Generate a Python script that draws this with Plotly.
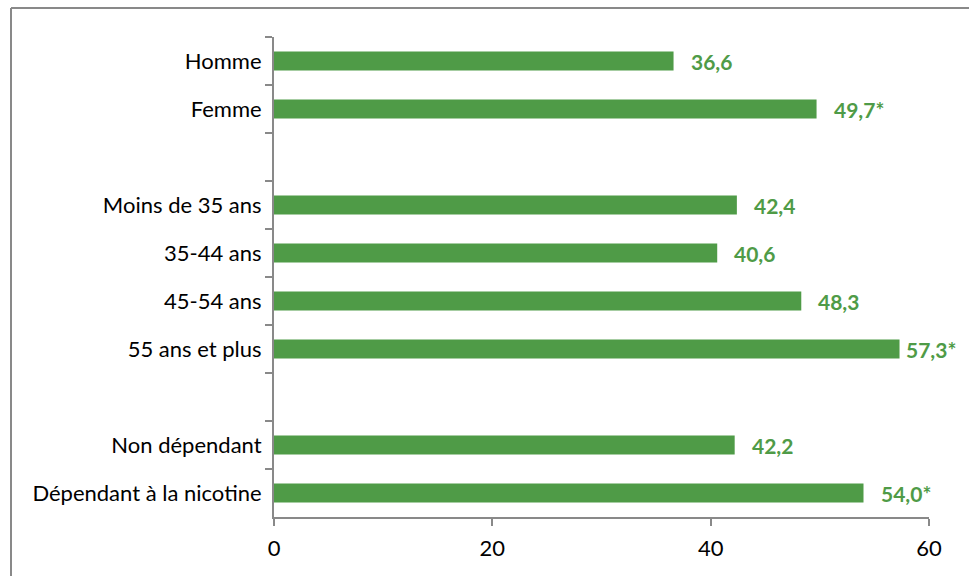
import plotly.graph_objects as go

categories = ["Homme", "Femme", " ", "Moins de 35 ans", "35-44 ans", "45-54 ans",
              "55 ans et plus", "  ", "Non dépendant", "Dépendant à la nicotine"]
bar_categories = ["Homme", "Femme", "Moins de 35 ans", "35-44 ans", "45-54 ans",
                  "55 ans et plus", "Non dépendant", "Dépendant à la nicotine"]
values = [36.6, 49.7, 42.4, 40.6, 48.3, 57.3, 42.2, 54.0]
labels = ["36,6", "49,7*", "42,4", "40,6", "48,3", "57,3*", "42,2", "54,0*"]
x_ticks = [0, 20, 40, 60]

GREEN = "rgb(79,155,71)"
GRAY = "#898989"
FONT = "Lato"

W, H = 969, 576
L, R, T, B = 274, 40, 37, 59
pw, ph = W - L - R, H - T - B

fig = go.Figure()
fig.add_trace(go.Bar(
    x=values, y=bar_categories, orientation="h",
    marker=dict(color=GREEN, line=dict(width=0)),
    hoverinfo="x+y",
))

for v, c, t in zip(values, bar_categories, labels):
    shift = 15 if v < 56 else 4
    fig.add_annotation(x=v, y=c, text="<b>%s</b>" % t, showarrow=False,
                       xanchor="left", yanchor="middle", xshift=shift,
                       font=dict(family=FONT, size=21, color=GREEN))

def px_x(p):
    return (p - L) / pw

def px_y(p):
    return 1 - (p - T) / ph

fig.add_shape(type="line", xref="paper", yref="paper",
              x0=px_x(11), x1=px_x(11), y0=px_y(8), y1=px_y(600),
              line=dict(color=GRAY, width=2))
fig.add_shape(type="line", xref="paper", yref="paper",
              x0=px_x(11), x1=px_x(1000), y0=px_y(8), y1=px_y(8),
              line=dict(color=GRAY, width=2))

fig.update_layout(
    width=W, height=H,
    margin=dict(l=L, r=R, t=T, b=B),
    plot_bgcolor="white", paper_bgcolor="white",
    bargap=0.6,
    showlegend=False,
    font=dict(family=FONT, size=22, color="black"),
    xaxis=dict(range=[0, 60], tickvals=x_ticks, showgrid=False, zeroline=False,
               showline=True, linecolor=GRAY, linewidth=2,
               ticks="outside", ticklen=7, tickcolor=GRAY, tickwidth=2,
               tickfont=dict(family=FONT, size=22), ticklabelstandoff=4,
               fixedrange=True),
    yaxis=dict(type="category", categoryorder="array", categoryarray=categories,
               range=[9.5, -0.5], tickson="boundaries", showgrid=False,
               showline=True, linecolor=GRAY, linewidth=2,
               ticks="outside", ticklen=7, tickcolor=GRAY, tickwidth=2,
               tickfont=dict(family=FONT, size=22), ticklabelstandoff=6,
               fixedrange=True),
)

fig.write_html("out.html")
